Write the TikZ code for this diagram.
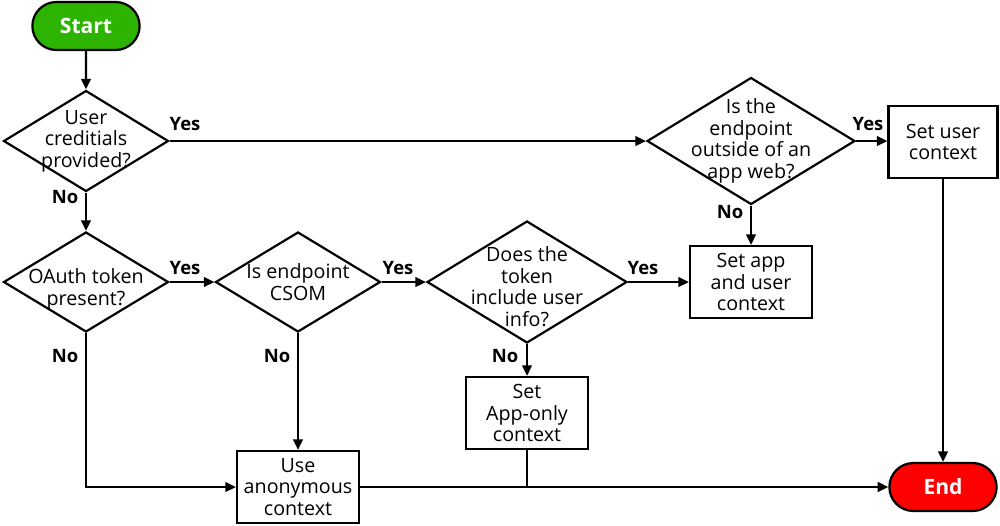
\documentclass[tikz,border=0pt]{standalone}
\usepackage{fontspec}
\setmainfont{Open Sans}
\usetikzlibrary{shapes.geometric,shapes.misc,arrows.meta}
\definecolor{startgreen}{RGB}{44,180,0}
\definecolor{endred}{RGB}{255,0,0}
\newcommand{\lowerby}[1]{\rule{0pt}{#1}}
\tikzset{
  decision/.style 2 args={draw,shape=diamond,minimum width=#1,minimum height=#2,inner sep=-12pt,align=center},
  process/.style={draw,rectangle,minimum width=2.44cm,minimum height=1.44cm,inner sep=1pt,align=center},
  terminal/.style={draw,rounded rectangle,minimum width=2.38cm,minimum height=0.96cm,text=white,font=\fontsize{12}{14}\selectfont\bfseries},
  answer/.style={font=\fontsize{10.5}{12}\selectfont\bfseries,inner sep=0pt}
}

\begin{document}
\begin{tikzpicture}[x=0.02cm,y=-0.02cm,font=\fontsize{11.2}{12.3}\selectfont,line width=1.25pt,>={Triangle[length=6pt,width=5.5pt]}]
      \useasboundingbox (0,0) rectangle (1000,525);
      \node[terminal,fill=startgreen](start)at(86,26){Start};
      \node[decision={3.3cm}{2.02cm}](creds)at(86,141){User\\creditials\\provided?};
      \node[decision={3.3cm}{2cm}](oauth)at(86,282){\lowerby{17pt}OAuth token\\present?};
      \node[decision={3.3cm}{2cm}](csom)at(298,282){Is endpoint\\CSOM};
      \node[decision={4cm}{2.44cm}](userinfo)at(527,282){\lowerby{14pt}Does the\\token\\include user\\info?};
      \node[decision={4.16cm}{2.54cm}](appweb)at(751,141){Is the\\endpoint\\outside of an\\app web?};
      \node[process](appuser)at(751,282){Set app\\and user\\context};
      \node[process](apponly)at(527,413){Set\\App-only\\context};
      \node[process](anon)at(298,487){Use\\anonymous\\context};
      \node[process,minimum width=2.18cm](userctx)at(943,142){Set user\\context};
      \node[terminal,fill=endred](end)at(943,487){End};
      \foreach \n/\x/\y/\t in{yescreds/185/124/Yes,nocreds/65/197/No,yesoauth/185/268/Yes,nooauth/65/356/No,
        yescsom/398/268/Yes,nocsom/277/356/No,yesinfo/643/268/Yes,noinfo/505/356/No,yesweb/868/124/Yes,noweb/730/212/No}{
        \node[answer](\n)at(\x,\y){\t};
      }
      \draw[->](start)--(creds);
      \draw[->](creds)--(oauth);
      \draw[->](creds.east)--(appweb.west);
      \draw[->](oauth.east)--(csom.west);
      \draw[->](csom.east)--(userinfo.west);
      \draw[->](userinfo.east)--(appuser.west);
      \draw[->](userinfo.south)--(apponly.north);
      \draw[->](appweb.east)--(appweb.east-|userctx.west);
      \draw[->](appweb.south)--(appuser.north);
      \draw[->](userctx.south)--(end.north);
      \draw[->](csom.south)--(anon.north);
      \draw[->](oauth.south)|-(anon.west);
      \draw[->](anon.east)--(end.west);
      \draw(apponly.south)--(apponly.south|-anon.east);
    \end{tikzpicture}
\end{document}
